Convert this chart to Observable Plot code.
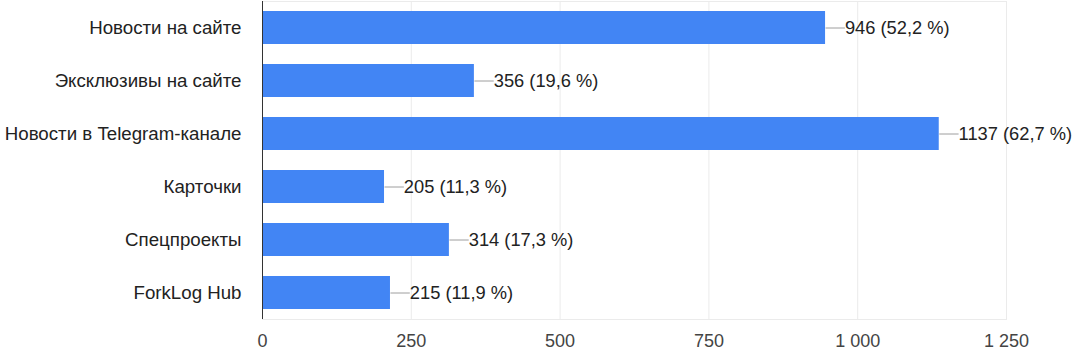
<!DOCTYPE html>
<html>
<head>
<meta charset="utf-8">
<script src="https://cdn.jsdelivr.net/npm/d3@7"></script>
<script src="https://cdn.jsdelivr.net/npm/@observablehq/plot@0.6"></script>
<style>
  html, body { margin: 0; padding: 0; background: #fff; }
  #chart svg { display: block; }
</style>
</head>
<body>
<div id="chart"></div>
<script>
const categories = ["Новости на сайте", "Эксклюзивы на сайте", "Новости в Telegram-канале", "Карточки", "Спецпроекты", "ForkLog Hub"];
const counts = [946, 356, 1137, 205, 314, 215];
const percents = [52.2, 19.6, 62.7, 11.3, 17.3, 11.9];
const xTicks = [0, 250, 500, 750, 1000, 1250];

const data = categories.map((c, i) => ({ category: c, value: counts[i], pct: percents[i] }));
const locale = d3.formatLocale({ decimal: ",", thousands: "\u00a0", grouping: [3], currency: ["", ""] });
const fmtTick = locale.format(",");
const fmtPct = locale.format(".1f");
const connectorUnits = 32.5; // connector length expressed in data units (≈19px)

const chart = Plot.plot({
  width: 1078,
  height: 358,
  marginLeft: 262,
  marginRight: 72,
  marginTop: 1,
  marginBottom: 39,
  style: { fontFamily: "'Liberation Sans', Arial, sans-serif", background: "#fff" },
  x: { domain: [0, 1250], ticks: xTicks },
  y: { domain: categories, paddingInner: 0.375, paddingOuter: 0.1875 },
  marks: [
    Plot.gridX(xTicks, { stroke: "#ebebeb", strokeOpacity: 1 }),
    Plot.frame({ stroke: "#ebebeb", strokeOpacity: 1 }),
    Plot.barX(data, { y: "category", x: "value", fill: "#4285f4" }),
    Plot.link(data, {
      x1: "value", x2: d => d.value + connectorUnits,
      y1: "category", y2: "category",
      stroke: "#9e9e9e", strokeWidth: 1
    }),
    Plot.text(data, {
      x: d => d.value + connectorUnits, y: "category",
      text: d => `${d.value} (${fmtPct(d.pct)} %)`,
      textAnchor: "start", fontSize: 18.3, fill: "#222"
    }),
    Plot.ruleX([0], { stroke: "#333", strokeWidth: 1 }),
    Plot.axisX(xTicks, { tickSize: 0, tickPadding: 15, fontSize: 18, fill: "#444", tickFormat: fmtTick, label: null }),
    Plot.axisY({ tickSize: 0, tickPadding: 21, fontSize: 18.7, fill: "#222", label: null })
  ]
});
document.getElementById("chart").appendChild(chart);
</script>
</body>
</html>
